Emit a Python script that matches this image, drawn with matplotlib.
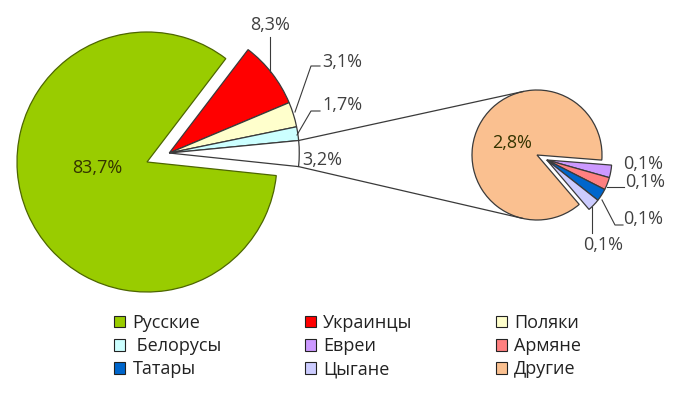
import numpy as np
import matplotlib
matplotlib.use("Agg")
import matplotlib.pyplot as plt
from matplotlib.patches import Patch

plt.rcParams["font.family"] = ["Open Sans", "DejaVu Sans"]

# main pie: the last slice is split into the small pie
main_labels = ["Русские", "Украинцы", "Поляки", "Белорусы", "Прочие"]
main_values = [83.7, 8.3, 3.1, 1.7, 3.2]
main_colors = ["#99CC00", "#FF0000", "#FFFFCC", "#CCFFFF", "#FFFFFF"]

sec_labels = ["Другие", "Евреи", "Армяне", "Татары", "Цыгане"]
sec_values = [2.8, 0.1, 0.1, 0.1, 0.1]
sec_colors = ["#FAC090", "#CC99FF", "#FF8080", "#0066CC", "#CCCCFF"]

legend_order = ["Русские", "Украинцы", "Поляки",
                " Белорусы", "Евреи", "Армяне",
                "Татары", "Цыгане", "Другие"]

W, H = 700, 395
TXT = "#404040"


def fmt(v):
    return f"{v:.1f}".replace(".", ",") + "%"


def py(y):
    # pixel row -> data y
    return H - y


fig = plt.figure(figsize=(7, 3.95), dpi=100)
ax = fig.add_axes([0, 0, 1, 1])

edge = dict(edgecolor="#3a3a3a", linewidth=0.9)

# main pie
c1 = (147, py(162))
r1 = 130
w1, _ = ax.pie(main_values, colors=main_colors, startangle=354,
               counterclock=False, center=c1, radius=r1,
               wedgeprops=edge)
w1[0].set_edgecolor("#4d6600")
shift = 24
ang = np.deg2rad(22)
c1b = (c1[0] + shift * np.cos(ang), c1[1] + shift * np.sin(ang))
for w in w1[1:]:
    w.set_center(c1b)

# secondary pie
c2 = (537, py(155))
r2 = 65
w2, _ = ax.pie(sec_values, colors=sec_colors, startangle=310.5,
               counterclock=False, center=c2, radius=r2,
               wedgeprops=edge)
ang2 = np.deg2rad(-27)
c2b = (c2[0] + 11 * np.cos(ang2), c2[1] + 11 * np.sin(ang2))
for w in w2[1:]:
    w.set_center(c2b)

# connector lines from the "other" wedge to the small pie
ow = w1[4]
for th, sign in [(ow.theta2, 1), (ow.theta1, -1)]:
    p = np.array(c1b) + r1 * np.array([np.cos(np.deg2rad(th)), np.sin(np.deg2rad(th))])
    d = np.array(c2) - p
    dist = np.hypot(*d)
    base = np.arctan2(d[1], d[0])
    a = base + sign * np.arcsin(r2 / dist)
    L = np.sqrt(dist ** 2 - r2 ** 2)
    q = p + L * np.array([np.cos(a), np.sin(a)])
    ax.plot([p[0], q[0]], [p[1], q[1]], color="#3a3a3a", lw=0.9)

fs = 13
# labels on main pie
ax.text(97, py(168), fmt(main_values[0]), ha="center", va="center",
        fontsize=fs, color="#333300")
ax.text(270, py(25), fmt(main_values[1]), ha="center", va="center",
        fontsize=fs, color=TXT)
ax.plot([270, 270], [py(37), py(72)], color="#3a3a3a", lw=0.8)
ax.text(322, py(62), fmt(main_values[2]), ha="left", va="center",
        fontsize=fs, color=TXT)
ax.plot([295, 311, 320], [py(112), py(66), py(66)], color="#3a3a3a", lw=0.8)
ax.text(322, py(105), fmt(main_values[3]), ha="left", va="center",
        fontsize=fs, color=TXT)
ax.plot([297, 311, 320], [py(135), py(111), py(111)], color="#3a3a3a", lw=0.8)
ax.text(322, py(160), fmt(main_values[4]), ha="center", va="center",
        fontsize=fs, color=TXT)

# labels on secondary pie
ax.text(512, py(143), fmt(sec_values[0]), ha="center", va="center",
        fontsize=fs, color="#333300")
ax.text(643, py(164), fmt(sec_values[1]), ha="center", va="center",
        fontsize=fs, color=TXT)
ax.text(645, py(182), fmt(sec_values[2]), ha="center", va="center",
        fontsize=fs, color=TXT)
ax.plot([607, 624], [py(187), py(187)], color="#3a3a3a", lw=0.8)
ax.text(643, py(219), fmt(sec_values[3]), ha="center", va="center",
        fontsize=fs, color=TXT)
ax.plot([602, 615, 623], [py(200), py(225), py(225)], color="#3a3a3a", lw=0.8)
ax.text(603, py(245), fmt(sec_values[4]), ha="center", va="center",
        fontsize=fs, color=TXT)
ax.plot([592, 592], [py(207), py(233)], color="#3a3a3a", lw=0.8)

ax.set_xlim(0, W)
ax.set_ylim(0, H)
ax.set_aspect("equal")
ax.axis("off")

# legend, row-major order in three columns
col_of = dict(zip(main_labels[:4] + sec_labels, main_colors[:4] + sec_colors))
col_of[" Белорусы"] = col_of["Белорусы"]
order = [legend_order[r * 3 + c] for c in range(3) for r in range(3)]
handles = [Patch(facecolor=col_of[n], edgecolor="#222222", linewidth=0.8) for n in order]
fig.legend(handles, order, ncol=3, loc="upper left",
           bbox_to_anchor=(114 / W, 1 - 314 / H), frameon=False,
           borderaxespad=0, borderpad=0,
           fontsize=fs, handlelength=0.62, handleheight=0.62,
           handletextpad=0.4, columnspacing=4.6, labelspacing=0.28,
           labelcolor="#222222")

fig.savefig("out.png", dpi=100)
